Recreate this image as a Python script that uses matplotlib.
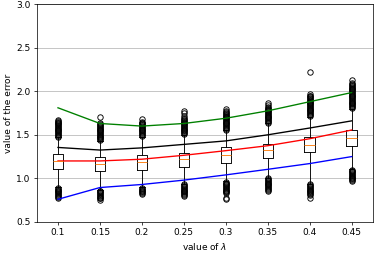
import numpy as np
import matplotlib.pyplot as plt

lambdas = [0.1, 0.15, 0.2, 0.25, 0.3, 0.35, 0.4, 0.45]

# box statistics
q1 = [1.11, 1.09, 1.10, 1.13, 1.18, 1.23, 1.30, 1.37]
med = [1.20, 1.165, 1.19, 1.22, 1.265, 1.32, 1.385, 1.465]
q3 = [1.275, 1.24, 1.265, 1.295, 1.355, 1.40, 1.47, 1.56]
whishi = [1.47, 1.43, 1.48, 1.50, 1.55, 1.63, 1.71, 1.80]
whislo = [0.90, 0.87, 0.90, 0.94, 0.97, 1.01, 0.94, 1.11]

# outliers (dense clusters of overlapping circles)
fliers = [
    [1.48, 1.49, 1.50, 1.51, 1.52, 1.53, 1.54, 1.55, 1.56, 1.57, 1.58, 1.59,
     1.60, 1.61, 1.62, 1.63, 1.64, 1.65, 1.66, 1.67,
     0.78, 0.79, 0.80, 0.81, 0.82, 0.83, 0.84, 0.85, 0.86, 0.87, 0.88, 0.89],
    [1.44, 1.45, 1.46, 1.47, 1.48, 1.49, 1.50, 1.51, 1.52, 1.53, 1.54, 1.55,
     1.56, 1.57, 1.58, 1.59, 1.60, 1.61, 1.62, 1.63, 1.70,
     0.75, 0.77, 0.78, 0.79, 0.80, 0.81, 0.82, 0.83, 0.84, 0.85, 0.86],
    [1.49, 1.50, 1.51, 1.52, 1.53, 1.54, 1.55, 1.56, 1.57, 1.58, 1.59, 1.60,
     1.61, 1.62, 1.63, 1.64, 1.65, 1.68,
     0.82, 0.83, 0.84, 0.85, 0.86, 0.87, 0.88, 0.89],
    [1.51, 1.52, 1.53, 1.54, 1.55, 1.56, 1.57, 1.58, 1.59, 1.60, 1.61, 1.62,
     1.63, 1.64, 1.65, 1.66, 1.67, 1.68, 1.69, 1.72, 1.75, 1.77,
     0.80, 0.81, 0.82, 0.83, 0.84, 0.85, 0.86, 0.87, 0.88, 0.89, 0.90, 0.91,
     0.92, 0.93],
    [1.56, 1.57, 1.58, 1.59, 1.60, 1.61, 1.62, 1.63, 1.64, 1.65, 1.66, 1.67,
     1.68, 1.69, 1.70, 1.71, 1.72, 1.73, 1.74, 1.75, 1.76, 1.77, 1.80,
     0.76, 0.78, 0.83, 0.84, 0.85, 0.86, 0.87, 0.88, 0.89, 0.90, 0.91, 0.92,
     0.93, 0.94, 0.95, 0.96],
    [1.64, 1.65, 1.66, 1.67, 1.68, 1.69, 1.70, 1.71, 1.72, 1.73, 1.74, 1.75,
     1.76, 1.77, 1.78, 1.79, 1.80, 1.81, 1.82, 1.84, 1.86,
     0.86, 0.87, 0.88, 0.89, 0.90, 0.91, 0.92, 0.93, 0.94, 0.95, 0.96, 0.97,
     0.98, 0.99, 1.00],
    [1.72, 1.73, 1.74, 1.75, 1.76, 1.77, 1.78, 1.79, 1.80, 1.81, 1.82, 1.83,
     1.84, 1.85, 1.86, 1.87, 1.88, 1.89, 1.90, 1.91, 1.92, 1.93, 1.94, 1.95,
     1.97, 2.22,
     0.78, 0.81, 0.82, 0.83, 0.84, 0.85, 0.86, 0.87, 0.88, 0.89, 0.90, 0.91,
     0.92, 0.93],
    [1.81, 1.82, 1.83, 1.84, 1.85, 1.86, 1.87, 1.88, 1.89, 1.90, 1.91, 1.92,
     1.93, 1.94, 1.95, 1.96, 1.97, 1.98, 1.99, 2.00, 2.01, 2.02, 2.03, 2.04,
     2.05, 2.06, 2.07, 2.08, 2.10, 2.13,
     0.97, 0.98, 0.99, 1.00, 1.01, 1.02, 1.03, 1.04, 1.05, 1.06, 1.07, 1.08,
     1.09, 1.10],
]

# curves drawn over the boxes
green = [1.81, 1.63, 1.60, 1.63, 1.69, 1.775, 1.88, 1.985]
black = [1.355, 1.325, 1.35, 1.39, 1.43, 1.50, 1.578, 1.66]
red = [1.20, 1.20, 1.22, 1.265, 1.318, 1.375, 1.455, 1.555]
blue = [0.76, 0.895, 0.93, 0.98, 1.04, 1.104, 1.17, 1.25]

stats = []
for i in range(len(lambdas)):
    stats.append(dict(med=med[i], q1=q1[i], q3=q3[i],
                      whislo=whislo[i], whishi=whishi[i], fliers=fliers[i]))

fig = plt.figure(figsize=(375/65, 256/65), dpi=65)
ax = fig.add_axes([0.0987, 0.133, 0.895, 0.851])
ax.yaxis.grid(True, color="#b0b0b0")
ax.set_axisbelow(True)

ax.bxp(stats, positions=lambdas, widths=0.0125, manage_ticks=False)
ax.plot(lambdas, green, color="green")
ax.plot(lambdas, black, color="black")
ax.plot(lambdas, red, color="red")
ax.plot(lambdas, blue, color="blue")

ax.set_xlim(0.075, 0.475)
ax.set_ylim(0.5, 3.0)
ax.set_xticks(lambdas)
ax.set_xticklabels([str(l) for l in lambdas])
ax.set_xlabel(r"value of $\lambda$")
ax.set_ylabel("value of the error")

fig.savefig("out.png", dpi=65)
